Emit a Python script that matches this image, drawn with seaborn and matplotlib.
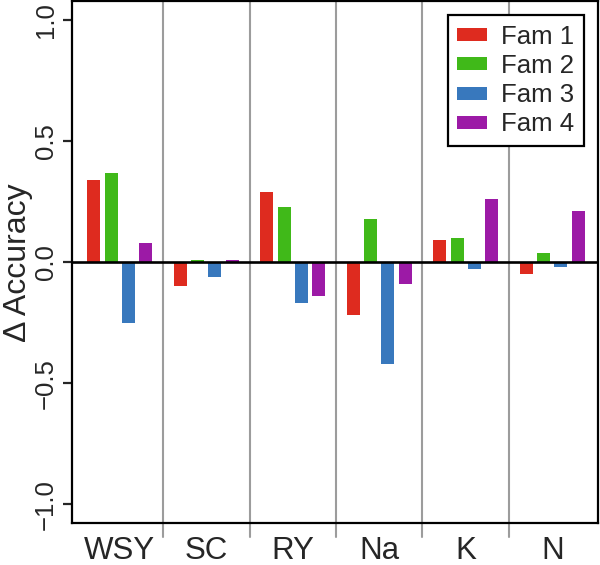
import pandas as pd
import matplotlib
matplotlib.use('Agg')
import matplotlib.pyplot as plt
import seaborn as sns

sns.set_style('ticks')
plt.rcParams['font.family'] = ['Liberation Sans', 'DejaVu Sans']

# data
groups = ['WSY', 'SC', 'RY', 'Na', 'K', 'N']
fams = ['Fam 1', 'Fam 2', 'Fam 3', 'Fam 4']
fam1 = [0.34, -0.10, 0.29, -0.22, 0.09, -0.05]
fam2 = [0.37, 0.01, 0.23, 0.18, 0.10, 0.04]
fam3 = [-0.25, -0.06, -0.17, -0.42, -0.03, -0.02]
fam4 = [0.08, 0.01, -0.14, -0.09, 0.26, 0.21]
y_ticks = [-1.0, -0.5, 0.0, 0.5, 1.0]

fam_colors = dict(zip(fams, ['#DE2B1F', '#40B919', '#3878BD', '#9C1AA6']))

plt_df = pd.DataFrame({
    'group': groups * 4,
    'fam': [f for f in fams for _ in groups],
    'value': fam1 + fam2 + fam3 + fam4,
})

fig = plt.figure(figsize=(6, 5.65), dpi=100)
ax = fig.add_axes([0.1205, 0.0738, 0.8762, 0.9242])

sns.barplot(data=plt_df, x='group', y='value', hue='fam', order=groups, hue_order=fams,
            palette=fam_colors, saturation=1, width=0.8, gap=0.25, linewidth=0,
            ax=ax, legend=True)

ax.set_xlim(-0.55, 5.53)
ax.set_ylim(-1.078, 1.078)

# group separators, running a bit below the axis
for i in range(len(groups) - 1):
    ax.axvline(i + 0.5, ymin=-0.026, ymax=1, color='#9C9C9C', lw=1.5, clip_on=False, zorder=0)
ax.axhline(0, color='black', lw=1.9, zorder=3)

for sp in ax.spines.values():
    sp.set_linewidth(1.6)
    sp.set_color('black')

ax.set_yticks(y_ticks)
ax.set_yticklabels(['{:.1f}'.format(v).replace('-', '\u2212') for v in y_ticks])
ax.tick_params(axis='y', length=6.5, width=1.6, pad=4, labelsize=18.5, labelrotation=90)
for lab in ax.get_yticklabels():
    lab.set_va('center')
ax.tick_params(axis='x', length=0, pad=9, labelsize=22.5)

ax.set_xlabel('')
ax.set_ylabel('\u0394 Accuracy', fontsize=23)
ax.yaxis.set_label_coords(-0.074, 0.5)

handles, labels = ax.get_legend_handles_labels()
leg = ax.legend(handles, labels, loc='upper right', fontsize=18.5, frameon=True, fancybox=False,
                handlelength=1.15, handleheight=0.4, handletextpad=0.55, labelspacing=0.2,
                borderpad=0.38, borderaxespad=0.55, title=None)
leg.get_frame().set_edgecolor('black')
leg.get_frame().set_linewidth(1.6)
leg.get_frame().set_alpha(1)

plt.savefig('out.png', dpi=100)
